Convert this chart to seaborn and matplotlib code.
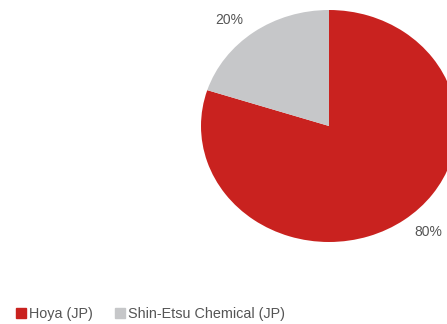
import matplotlib
matplotlib.use("Agg")
import numpy as np
import matplotlib.pyplot as plt
from matplotlib.lines import Line2D
import seaborn as sns

# Market share data
companies = ["Hoya (JP)", "Shin-Etsu Chemical (JP)"]
shares = [80, 20]
colors = ["#C9221F", "#C6C7C9"]

sns.set_theme(style="white")
plt.rcParams["font.family"] = ["Liberation Sans", "DejaVu Sans"]

fig = plt.figure(figsize=(4.47, 3.24), dpi=100)
ax = fig.add_axes([0, 0, 1, 1])

wedges, texts, autotexts = ax.pie(
    shares,
    colors=colors,
    startangle=90,
    counterclock=False,
    autopct="%.0f%%",
    pctdistance=1.2,
    wedgeprops=dict(linewidth=0),
    textprops=dict(color="#555555", fontsize=10),
)

# Turn the percentage labels slightly counter-clockwise around the pie
for t in autotexts:
    x, y = t.get_position()
    r = np.hypot(x, y)
    ang = np.arctan2(y, x) + np.deg2rad(4.5)
    t.set_position((r * np.cos(ang), r * np.sin(ang)))

# Stretched layout: horizontal radius 128px, vertical 116px
ax.set_aspect("auto")
ax.set_xlim(-329 / 128, (447 - 329) / 128)
ax.set_ylim(-198 / 116, 126 / 116)
ax.axis("off")

handles = [
    Line2D([0], [0], marker="s", linestyle="", markersize=6.5,
           markerfacecolor=c, markeredgecolor=c)
    for c in colors
]
fig.legend(
    handles, companies, loc="lower left", bbox_to_anchor=(0.005, -0.03),
    ncol=2, frameon=False, fontsize=10.4, labelcolor="#555555",
    handletextpad=0.15, columnspacing=1.5, handlelength=0.8,
)

fig.savefig("out.png", dpi=100)
